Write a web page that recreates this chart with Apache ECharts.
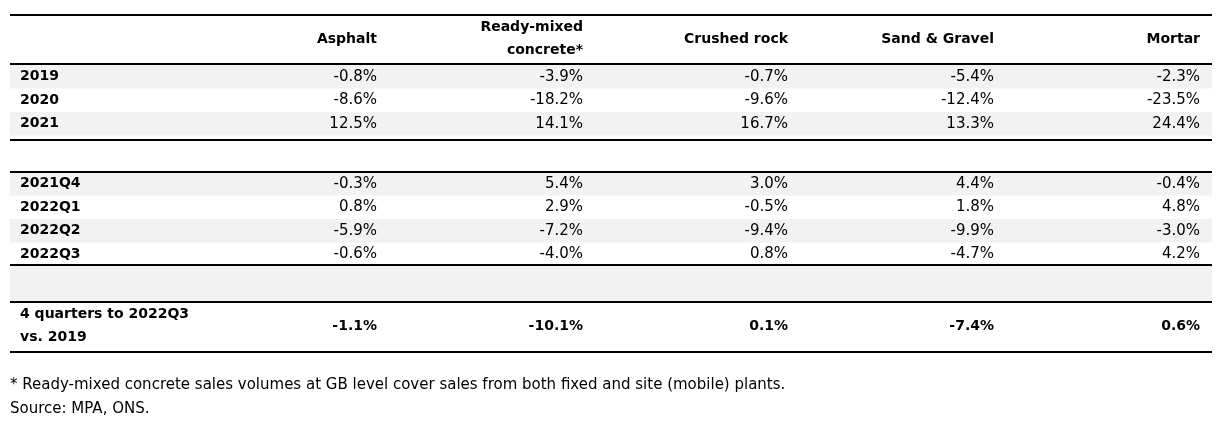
<!DOCTYPE html>
<html>
<head>
<meta charset="utf-8">
<script src="https://cdn.jsdelivr.net/npm/echarts@6/dist/echarts.min.js"></script>
<style>html,body{margin:0;padding:0;background:#fff}#main{width:1227px;height:435px}</style>
</head>
<body>
<div id="main"></div>
<script>
// Données du tableau
var columns = ['Asphalt', 'Ready-mixed\nconcrete*', 'Crushed rock', 'Sand & Gravel', 'Mortar'];
var yearLabels = ['2019', '2020', '2021'];
var yearValues = [
    ['-0.8%', '-3.9%', '-0.7%', '-5.4%', '-2.3%'],
    ['-8.6%', '-18.2%', '-9.6%', '-12.4%', '-23.5%'],
    ['12.5%', '14.1%', '16.7%', '13.3%', '24.4%']
];
var quarterLabels = ['2021Q4', '2022Q1', '2022Q2', '2022Q3'];
var quarterValues = [
    ['-0.3%', '5.4%', '3.0%', '4.4%', '-0.4%'],
    ['0.8%', '2.9%', '-0.5%', '1.8%', '4.8%'],
    ['-5.9%', '-7.2%', '-9.4%', '-9.9%', '-3.0%'],
    ['-0.6%', '-4.0%', '0.8%', '-4.7%', '4.2%']
];
var totalLabel = '4 quarters to 2022Q3\nvs. 2019';
var totalValues = ['-1.1%', '-10.1%', '0.1%', '-7.4%', '0.6%'];
var footnotes = ['* Ready-mixed concrete sales volumes at GB level cover sales from both fixed and site (mobile) plants.', 'Source: MPA, ONS.'];

var FONT = '"DejaVu Sans", sans-serif';
var colRight = [377, 583, 788, 994, 1200];
var left = 10, right = 1212, rowH = 23.5, shade = '#f2f2f2';
var els = [];

function line(y, w) {
    els.push({ type: 'line', shape: { x1: left, y1: y, x2: right, y2: y }, style: { stroke: '#000', lineWidth: w || 2 } });
}
function rect(y, h) {
    els.push({ type: 'rect', shape: { x: left, y: y, width: right - left, height: h }, style: { fill: shade } });
}
function text(x, y, s, align, bold) {
    els.push({ type: 'text', x: x, y: y, style: { text: s, font: (bold ? 'bold 14px ' : '15px ') + FONT, fill: '#000', align: align, verticalAlign: 'middle', lineHeight: 23 } });
}
function rows(labels, values, y0) {
    labels.forEach(function (lab, i) {
        var y = y0 + i * rowH;
        if (i % 2 === 0) rect(y, rowH);
        text(20, y + rowH / 2, lab, 'left', true);
        values[i].forEach(function (v, j) { text(colRight[j], y + rowH / 2, v, 'right'); });
    });
}

// En-tête
columns.forEach(function (c, j) { text(colRight[j], 39, c, 'right', true); });
rows(yearLabels, yearValues, 65);
rows(quarterLabels, quarterValues, 172);
rect(266, 36);
text(20, 326, totalLabel, 'left', true);
totalValues.forEach(function (v, j) { text(colRight[j], 326, v, 'right', true); });
line(15); line(64); line(140); line(172); line(265); line(302); line(352);
footnotes.forEach(function (f, i) {
    els.push({ type: 'text', x: 10, y: 385 + i * 24, style: { text: f, font: '15px ' + FONT, fill: '#000', verticalAlign: 'middle' } });
});

var myChart = echarts.init(document.getElementById('main'));
myChart.setOption({ animation: false, graphic: { elements: els } });
</script>
</body>
</html>
